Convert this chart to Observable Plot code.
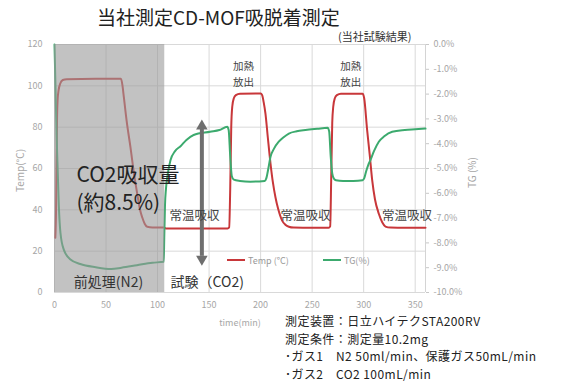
<!DOCTYPE html>
<html><head><meta charset="utf-8">
<script src="https://cdn.jsdelivr.net/npm/d3@7"></script>
<script src="https://cdn.jsdelivr.net/npm/@observablehq/plot@0.6"></script>
<style>
body{margin:0;background:#fff;font-family:"Noto Sans CJK JP","Noto Sans",sans-serif;}
#wrap{position:relative;width:581px;height:388px;overflow:hidden;background:#fff}
.ov{position:absolute;white-space:nowrap;line-height:1}
</style></head><body><div id="wrap"></div>
<script>
// ---- data ----
const tempTime = [0.8,1.5,2,2.5,3,4,5.5,8,12,40,64.5,66,67.3,70,73.7,77,80.2,83,85.1,87.5,90,95,106,108,120,140,168,169.5,170.5,171.5,172.5,174,176,180,200,201.5,203,204.7,207,209.6,212,214.4,217,220.9,224,227.4,232,250,266,267.5,268.5,269.5,270.5,272,274,278,299,300.5,303.4,306,308.3,311,314.7,318,321.2,326,340,360];
const tempValue = [26.5,40,65,85,93,98,101,102.8,103.2,103.4,103.4,100,94.5,83,70.3,58,48,40,36.4,33.3,31.8,31.5,31.5,31,31,31,31,31.5,50,80,90,94,95.5,96.2,96.3,95.5,92,86.6,75,62.4,53,46.1,40.5,34.8,32.8,31.8,31.4,31.3,31.3,32,55,82,90,94,95.5,96.2,96.2,94,78.4,66,54.2,45,38.1,34,31.9,31.4,31.3,31.3];
const tgTime = [0,1,2,3.2,4.2,5.8,9,15.5,25,40,55,65,80,95,106,106.5,107.2,108.2,110,112.6,117,122.3,128,135,151,160,167.6,169,170.5,172,174,180,190,204,205.5,207.5,209.6,213,217.6,222,227.4,235,243.5,255,265,266.5,268,269.5,271,273,280,290,299,300.5,302.5,304.5,306.6,310,314.7,320,327.7,340,350,360];
const tgValue = [0,-1.8,-3.6,-5.2,-6.5,-7.6,-8.27,-8.67,-8.85,-8.98,-9.05,-9.0,-8.9,-8.8,-8.76,-7.8,-6.5,-5.8,-5.2,-4.66,-4.3,-4.1,-3.85,-3.65,-3.52,-3.45,-3.32,-3.45,-4.5,-5.3,-5.45,-5.5,-5.53,-5.5,-5.4,-5.0,-4.53,-4.2,-3.92,-3.75,-3.59,-3.5,-3.45,-3.4,-3.36,-3.5,-4.5,-5.2,-5.4,-5.47,-5.5,-5.5,-5.47,-5.4,-5.1,-4.85,-4.66,-4.3,-3.92,-3.7,-3.52,-3.45,-3.42,-3.39];
const xTicks = [0,50,100,150,200,250,300,350];
const tempTicks = [0,20,40,60,80,100,120];
const tgTicks = [0,-1,-2,-3,-4,-5,-6,-7,-8,-9,-10];
const pretreatEnd = 107;
const heatLabels = [183.5, 287.5];
const absorbLabels = [135.8, 243.5, 342];

const RED = "#c8373a", GREEN = "#3caa6e";
const temp = tempTime.map((t,i)=>({t, v: tempValue[i]}));
const tg = tgTime.map((t,i)=>({t, v: tgValue[i]}));
const tgToY = p => 120 + p*12;

const chart = Plot.plot({
  width: 581, height: 388,
  marginTop: 44, marginBottom: 96, marginLeft: 54, marginRight: 156,
  style: {fontFamily: '"Noto Sans CJK JP", sans-serif', background: "white"},
  x: {domain: [0, 360], axis: null},
  y: {domain: [0, 120], axis: null},
  marks: [
    Plot.gridX(xTicks, {stroke: "#d9d9d9", strokeOpacity: 1}),
    Plot.gridY(tempTicks, {stroke: "#d9d9d9", strokeOpacity: 1}),
    Plot.ruleX([360], {stroke: "#d4d4d4"}),
    Plot.line(temp, {x: "t", y: "v", stroke: RED, strokeWidth: 2, curve: "monotone-x"}),
    Plot.line(tg, {x: "t", y: d => tgToY(d.v), stroke: GREEN, strokeWidth: 2, curve: "monotone-x"}),
    Plot.rect([pretreatEnd], {x1: 0, x2: d => d, y1: 0, y2: 120, fill: "#9a9a9a", fillOpacity: 0.6}),
    Plot.axisX(xTicks, {tickSize: 0, tickPadding: 9, fontSize: 9, color: "#a6a6a6", label: null}),
    Plot.axisY(tempTicks, {anchor: "left", tickSize: 0, tickPadding: 12, fontSize: 9, color: "#a6a6a6", label: null}),
    Plot.axisY(tgTicks.map(tgToY), {anchor: "right", tickSize: 3, tickPadding: 5, fontSize: 9, color: "#a6a6a6", stroke: "#c8c8c8", label: null,
      tickFormat: v => ((v - 120) / 12).toFixed(1) + "%"}),
    // arrow
    Plot.ruleX([143], {y1: 17.5, y2: 79, stroke: "#6e6e6e", strokeWidth: 4}),
    Plot.dot([143], {x: d => d, y: 80.5, symbol: "triangle", r: 4.3, fill: "#6e6e6e", stroke: null}),
    Plot.dot([143], {x: d => d, y: 16.2, symbol: "triangle", r: 4.3, fill: "#6e6e6e", stroke: null, rotate: 180}),
    // annotations
    Plot.text(heatLabels, {x: d => d, y: 106.3, text: () => "加熱\n放出", fontSize: 10.5, lineHeight: 1.48, fill: "#444"}),
    Plot.text(absorbLabels, {x: d => d, y: 36.8, text: () => "常温吸収", fontSize: 12.5, fill: "#444"}),
    Plot.text([21.3], {x: d => d, y: 56.6, text: () => "CO2吸収量", fontSize: 21, textAnchor: "start", fill: "#222"}),
    Plot.text([21.3], {x: d => d, y: 43.1, text: () => "(約8.5%)", fontSize: 21, textAnchor: "start", fill: "#222"}),
    Plot.text([52.4], {x: d => d, y: 4.8, text: () => "前処理(N2)", fontSize: 14, fill: "#333"}),
    Plot.text([112.6], {x: d => d, y: 4.8, text: () => "試験（CO2)", fontSize: 14, textAnchor: "start", fill: "#333"})
  ]
});

const wrap = document.getElementById("wrap");
wrap.appendChild(chart);
chart.style.position = "absolute"; chart.style.left = "0"; chart.style.top = "0";

function place(text, x, yc, size, color, extra) {
  const d = document.createElement("div");
  d.className = "ov";
  d.textContent = text;
  d.style.left = x + "px";
  d.style.top = (yc - 0.55 * size) + "px";
  d.style.fontSize = size + "px";
  d.style.color = color;
  if (extra) Object.assign(d.style, extra);
  wrap.appendChild(d);
  return d;
}
place("当社測定CD-MOF吸脱着測定", 97, 17, 19, "#222");
place("(当社試験結果)", 338, 37, 11, "#333");
place("time(min)", 240, 323, 9, "#a6a6a6", {transform: "translateX(-50%)"});
place("Temp(°C)", 20, 170, 10, "#a6a6a6", {transform: "translate(-50%,0) rotate(-90deg)", transformOrigin: "50% 55%"});
place("TG (%)", 472, 172, 10, "#a6a6a6", {transform: "translate(-50%,0) rotate(-90deg)", transformOrigin: "50% 55%"});

const notes = ["測定装置：日立ハイテクSTA200RV", "測定条件：測定量10.2mg", "･ガス1　N2 50ml/min、保護ガス50mL/min", "･ガス2　CO2 100mL/min"];
notes.forEach((n, i) => place(n, 285, 322 + i * 17.4, 12, "#222", {letterSpacing: "0.45px"}));

// legend
function legendItem(x, color, label) {
  const d = document.createElement("div");
  d.className = "ov";
  d.style.left = x + "px"; d.style.top = "255px"; d.style.fontSize = "9px"; d.style.color = "#999";
  d.style.display = "flex"; d.style.alignItems = "center"; d.style.height = "10px";
  const s = document.createElement("span");
  s.style.display = "inline-block"; s.style.width = "18px"; s.style.height = "2px"; s.style.background = color; s.style.marginRight = "3px";
  d.appendChild(s);
  d.appendChild(document.createTextNode(label));
  wrap.appendChild(d);
}
legendItem(227, RED, "Temp (°C)");
legendItem(323, GREEN, "TG(%)");
</script>
</body></html>
